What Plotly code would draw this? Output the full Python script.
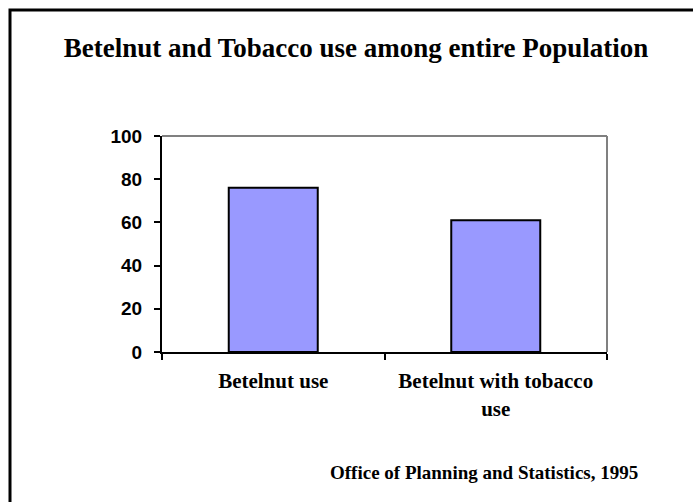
import plotly.graph_objects as go

categories = ["Betelnut use", "Betelnut with tobacco<br>use"]
values = [76, 61]
y_ticks = [0, 20, 40, 60, 80, 100]

title_text = "Betelnut and Tobacco use among entire Population"
source_text = "Office of Planning and Statistics, 1995"

W, H = 693, 502
L, R, T, B = 162, 86, 136, 150
pw, ph = W - L - R, H - T - B

def px(xp):
    return (xp - L) / pw

def py(yp):
    return (H - B - yp) / ph

serif = "Liberation Serif, Times New Roman, serif"
sans = "Liberation Sans, Arial, sans-serif"

fig = go.Figure(go.Bar(
    x=categories, y=values, width=0.4,
    marker=dict(color="#9999FF", line=dict(color="black", width=2)),
))

fig.update_layout(
    width=W, height=H,
    margin=dict(l=L, r=R, t=T, b=B),
    paper_bgcolor="white", plot_bgcolor="white",
    showlegend=False,
    title=dict(text=title_text, x=356 / W, y=1 - 48 / H, xanchor="center", yanchor="middle",
               font=dict(family=serif, size=27, color="black", weight="bold")),
    xaxis=dict(
        type="category", tickson="boundaries", showgrid=False,
        showline=True, linecolor="black", linewidth=2,
        ticks="outside", ticklen=6, tickwidth=2, tickcolor="black",
        tickfont=dict(family=serif, size=21, color="black", weight="bold"),
        ticklabelstandoff=9,
        range=[-0.5, 1.5],
    ),
    yaxis=dict(
        range=[0, 100], tickvals=y_ticks, showgrid=False, zeroline=False,
        showline=True, linecolor="black", linewidth=2,
        ticks="outside", ticklen=6, tickwidth=2, tickcolor="black",
        tickfont=dict(family=sans, size=19, color="black", weight="bold"),
        ticklabelstandoff=8,
    ),
    shapes=[
        dict(type="line", xref="paper", yref="paper", x0=0, x1=1, y0=1, y1=1,
             line=dict(color="#808080", width=2)),
        dict(type="line", xref="paper", yref="paper", x0=1, x1=1, y0=0, y1=1,
             line=dict(color="#808080", width=2)),
        dict(type="rect", xref="paper", yref="paper",
             x0=px(10), x1=px(710), y0=py(10), y1=py(520),
             line=dict(color="black", width=3)),
    ],
    annotations=[
        dict(text=source_text, xref="paper", yref="paper", x=px(640), y=py(472),
             xanchor="right", yanchor="middle", showarrow=False,
             font=dict(family=serif, size=19, color="black", weight="bold")),
    ],
)

fig.write_html("out.html")
